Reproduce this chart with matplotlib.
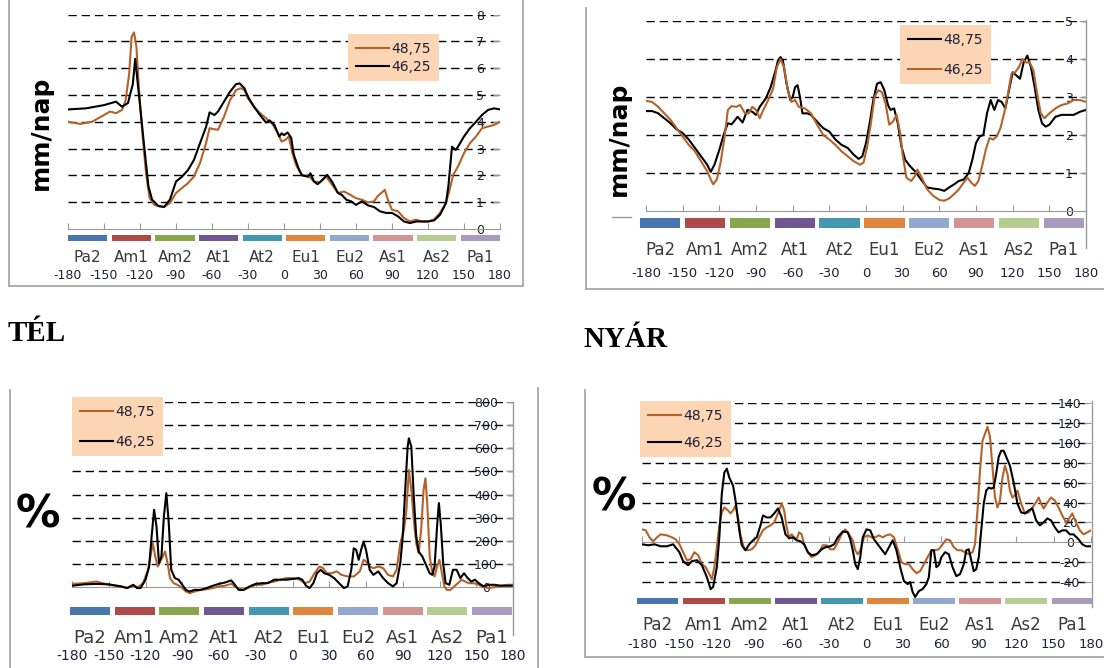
import matplotlib
matplotlib.use("Agg")
import matplotlib.pyplot as plt
from matplotlib.lines import Line2D

W, H = 1104, 668

# ---------------- data ----------------
categories = ["Pa2", "Am1", "Am2", "At1", "At2", "Eu1", "Eu2", "As1", "As2", "Pa1"]
cat_colors = ["#4A76AE", "#AE4A48", "#89A64C", "#71578F", "#4498AE",
              "#DF853E", "#93A8CF", "#D39594", "#B6CD92", "#A99AC0"]
lon_ticks = list(range(-180, 181, 30))
series_names = ["48,75", "46,25"]

# TÉL, mm/nap
w_mm_x_4875 = [-180, -170, -160, -150, -145, -140, -135, -132, -129, -127, -125, -123, -121, -118, -115, -112,
               -108, -104, -100, -95, -90, -85, -80, -75, -70, -65, -62, -58, -55, -50, -45, -40, -36, -33, -30,
               -25, -20, -15, -10, -5, -2, 1, 4, 7, 10, 15, 20, 25, 30, 35, 40, 45, 50, 55, 60, 65, 70, 75, 78,
               84, 87, 90, 95, 100, 105, 110, 115, 120, 125, 130, 135, 138, 141, 145, 150, 155, 160, 165, 170,
               175, 180]
w_mm_4875 = [4.0, 3.92, 4.0, 4.25, 4.38, 4.32, 4.44, 4.8, 5.8, 7.17, 7.33, 6.8, 5.3, 3.57, 2.08, 1.15, 0.9,
             0.84, 0.82, 0.97, 1.34, 1.53, 1.71, 1.96, 2.46, 3.2, 3.76, 3.72, 3.7, 4.19, 4.8, 5.18, 5.25, 5.18,
             4.87, 4.56, 4.32, 4.13, 3.94, 3.57, 3.26, 3.32, 3.45, 2.83, 2.39, 2.0, 2.0, 1.77, 1.74, 1.96, 1.65,
             1.34, 1.4, 1.28, 1.15, 1.09, 0.99, 1.03, 1.22, 1.46, 1.03, 0.72, 0.66, 0.41, 0.28, 0.35, 0.28, 0.28,
             0.35, 0.6, 0.97, 1.46, 2.02, 2.33, 2.83, 3.2, 3.45, 3.76, 3.82, 3.88, 4.0]
w_mm_x_4625 = [-180, -165, -150, -140, -135, -130, -126, -124, -121, -117, -113, -110, -105, -100, -95, -90,
               -85, -80, -75, -70, -65, -62, -58, -55, -50, -45, -40, -37, -33, -30, -25, -20, -15, -12, -8, -4,
               -2, 0, 3, 6, 8, 12, 15, 20, 22, 25, 28, 32, 36, 40, 45, 48, 52, 56, 60, 65, 70, 75, 80, 85, 90,
               95, 100, 105, 110, 115, 120, 125, 130, 135, 137, 140, 143, 145, 150, 155, 160, 165, 170, 175, 180]
w_mm_4625 = [4.46, 4.5, 4.62, 4.75, 4.56, 4.7, 5.4, 6.35, 5.05, 3.3, 1.6, 1.1, 0.87, 0.82, 1.1, 1.77, 1.95,
             2.2, 2.58, 3.2, 3.8, 4.35, 4.25, 4.38, 4.75, 5.12, 5.4, 5.43, 5.25, 4.93, 4.56, 4.25, 3.97, 4.05,
             3.88, 3.45, 3.57, 3.5, 3.6, 3.4, 2.8, 2.27, 2.0, 1.95, 2.08, 1.77, 1.67, 1.83, 2.02, 1.77, 1.34,
             1.28, 1.09, 1.03, 0.9, 1.03, 0.88, 0.82, 0.66, 0.6, 0.6, 0.47, 0.28, 0.22, 0.28, 0.28, 0.28, 0.32,
             0.53, 0.97, 1.6, 3.07, 2.95, 3.07, 3.45, 3.76, 4.0, 4.25, 4.44, 4.5, 4.46]

# NYÁR, mm/nap
s_mm_x_4875 = [-180, -175, -170, -165, -160, -155, -150, -145, -140, -135, -130, -127, -124, -120, -116, -113,
               -110, -105, -101, -97, -93, -90, -87, -82, -78, -74, -72, -70, -68, -65, -62, -60, -58, -56, -54,
               -52, -48, -45, -40, -35, -30, -25, -20, -15, -10, -6, -3, 0, 3, 6, 9, 12, 15, 18, 20, 23, 26, 29,
               32, 36, 40, 45, 50, 55, 60, 64, 68, 72, 76, 80, 84, 87, 90, 93, 96, 99, 102, 105, 108, 111, 114,
               117, 120, 123, 126, 129, 132, 135, 138, 141, 144, 147, 150, 155, 160, 165, 170, 175, 180]
s_mm_4875 = [2.63, 2.63, 2.57, 2.44, 2.31, 2.15, 2.05, 1.88, 1.66, 1.44, 1.22, 1.03, 1.22, 1.61, 2.05, 2.31,
             2.28, 2.48, 2.33, 2.66, 2.61, 2.53, 2.74, 2.96, 3.26, 3.7, 3.96, 4.05, 3.96, 3.35, 2.92, 3.0, 3.26,
             3.31, 3.0, 2.57, 2.57, 2.53, 2.35, 2.18, 2.09, 1.88, 1.74, 1.66, 1.48, 1.37, 1.44, 1.79, 2.31, 2.92,
             3.35, 3.39, 3.18, 2.79, 2.66, 2.7, 2.31, 1.7, 1.35, 1.18, 1.05, 0.83, 0.62, 0.59, 0.57, 0.53, 0.62,
             0.7, 0.79, 0.83, 1.0, 1.35, 1.79, 1.96, 2.0, 2.57, 2.92, 2.66, 2.92, 2.87, 2.7, 3.18, 3.65, 3.57,
             3.48, 3.91, 4.09, 3.78, 3.26, 2.66, 2.31, 2.22, 2.27, 2.48, 2.53, 2.53, 2.53, 2.61, 2.66]
s_mm_x_4625 = [-180, -175, -170, -165, -160, -155, -150, -145, -140, -135, -130, -127, -125, -122, -119, -116,
               -113, -110, -106, -103, -99, -96, -93, -90, -87, -84, -80, -76, -73, -70, -67, -64, -61, -58, -55,
               -50, -45, -40, -35, -30, -25, -20, -15, -10, -5, -2, 1, 4, 7, 10, 13, 16, 19, 22, 25, 28, 30, 33,
               37, 40, 42, 45, 50, 55, 60, 64, 68, 72, 76, 80, 83, 86, 89, 92, 95, 98, 101, 104, 107, 110, 113,
               116, 119, 122, 125, 128, 131, 134, 137, 140, 143, 146, 150, 155, 160, 165, 170, 175, 180]
s_mm_4625 = [2.9, 2.87, 2.74, 2.57, 2.4, 2.18, 1.96, 1.74, 1.57, 1.31, 1.05, 0.83, 0.7, 0.83, 1.27, 1.88, 2.66,
             2.76, 2.74, 2.79, 2.57, 2.57, 2.74, 2.66, 2.44, 2.66, 2.92, 3.22, 3.78, 4.0, 3.78, 3.18, 2.87, 2.92,
             2.74, 2.7, 2.57, 2.27, 2.0, 1.88, 1.74, 1.57, 1.44, 1.31, 1.22, 1.27, 1.7, 2.31, 3.0, 3.18, 3.13,
             2.83, 2.27, 2.35, 2.53, 2.05, 1.48, 0.88, 0.79, 0.92, 1.09, 0.92, 0.57, 0.4, 0.29, 0.27, 0.33, 0.44,
             0.57, 0.75, 0.88, 0.75, 0.66, 0.79, 1.18, 1.61, 1.92, 1.88, 1.96, 2.18, 2.57, 3.05, 3.61, 3.65, 3.78,
             4.0, 3.91, 3.91, 3.7, 3.09, 2.57, 2.44, 2.57, 2.7, 2.79, 2.83, 2.92, 2.92, 2.87]

# TÉL, %
w_pct_x_4875 = [-180, -170, -160, -150, -140, -135, -130, -126, -122, -118, -116, -114, -112, -110, -108, -106,
                -104, -102, -100, -97, -94, -90, -87, -84, -80, -75, -70, -65, -60, -55, -50, -45, -40, -35, -30,
                -25, -20, -15, -10, -5, 0, 5, 10, 14, 18, 22, 25, 28, 32, 36, 40, 45, 50, 55, 58, 60, 63, 66, 70,
                74, 78, 82, 85, 88, 91, 93, 95, 97, 99, 101, 103, 105, 107, 108.5, 110, 112, 114, 116, 118, 120,
                122, 124, 126, 129, 132, 135, 138, 141, 144, 148, 152, 156, 160, 165, 170, 175, 180]
w_pct_4875 = [14, 17, 24, 10, 3, -4, 6, 0, 17, 75, 132, 190, 132, 89, 111, 132, 154, 104, 39, 17, 10, -4, -19,
              -26, -19, -12, -9, -4, 3, 6, 14, -4, -12, 0, 10, 10, 20, 24, 32, 39, 39, 35, 17, 24, 60, 89, 82, 60,
              60, 68, 53, 46, 46, 68, 118, 111, 89, 82, 89, 82, 53, 46, 75, 190, 247, 334, 506, 420, 291, 190,
              147, 247, 420, 470, 363, 132, 68, 46, 89, 118, 60, 3, -12, -12, 3, 17, 32, 24, 17, 17, 10, 0, -4, 0,
              6, 10, 10]
w_pct_x_4625 = [-180, -170, -160, -150, -140, -135, -130, -127, -124, -120, -117, -115, -113, -111, -109, -107,
                -105, -103, -101, -99, -96, -93, -90, -87, -84, -80, -75, -70, -65, -60, -55, -50, -47, -44, -40,
                -35, -30, -25, -20, -15, -10, -5, 0, 5, 8, 11, 14, 17, 20, 23, 26, 30, 34, 38, 42, 45, 48, 50, 52,
                54, 56, 58, 60, 63, 66, 70, 74, 78, 82, 85, 88, 90, 92, 94, 95, 97, 99, 101, 103, 106, 109, 112,
                114, 116, 118, 119.5, 121, 123, 125, 128, 131, 134, 137, 140, 143, 146, 149, 152, 156, 160, 165,
                170, 175, 180]
w_pct_4625 = [6, 12, 14, 12, 3, -4, 10, -4, -4, 32, 89, 219, 334, 262, 104, 132, 305, 406, 276, 75, 39, 32, 10,
              -12, -19, -12, -12, -4, 6, 14, 20, 29, 10, -12, -12, 3, 14, 17, 17, 32, 32, 32, 35, 39, 32, 6, -4,
              17, 60, 75, 60, 53, 39, 17, -4, 3, 75, 168, 161, 118, 161, 197, 161, 75, 53, 68, 39, 17, 3, 17, 104,
              219, 420, 607, 643, 607, 391, 219, 154, 132, 96, 60, 53, 89, 262, 363, 276, 104, 17, 10, 75, 75, 39,
              60, 39, 24, 32, 17, 3, 10, 10, 6, 6, 6]

# NYÁR, %
s_pct_x_4875 = [-180, -177, -174, -171, -168, -165, -160, -156, -153, -150, -147, -144, -141, -138, -135, -132,
                -129, -126, -124, -122, -120, -118, -116, -114, -111, -109, -107, -105, -103, -101, -98, -95, -92,
                -89, -86, -83, -80, -77, -74, -71, -68, -66, -64, -62, -60, -58, -56, -54, -52, -50, -47, -44,
                -41, -38, -35, -32, -29, -26, -23, -20, -17, -14, -11, -9, -7, -5, -2, 1, 4, 7, 10, 13, 16, 19,
                22, 25, 28, 31, 34, 37, 40, 43, 46, 49, 52, 55, 58, 61, 64, 67, 70, 73, 76, 79, 82, 85, 87, 89,
                91, 93, 95, 97, 99, 101, 103, 105, 107, 109, 111, 113, 115, 117, 119, 121, 124, 127, 130, 133,
                136, 138, 140, 142, 145, 148, 151, 154, 157, 160, 163, 165, 168, 171, 174, 177, 180]
s_pct_4875 = [13, 12, 5, 1, 5, 8, 7, 5, 3, -2, -10, -18, -17, -10, -13, -22, -25, -32, -37, -25, -5, 17, 30, 35,
              32, 29, 32, 37, 25, 7, -7, -8, -7, -3, 5, 12, 15, 17, 20, 29, 39, 32, 15, 5, 8, 5, 3, 10, 8, -2,
              -10, -15, -13, -10, -3, -3, -7, -7, 0, 8, 13, 8, 2, -8, -12, -8, 5, 7, 5, 5, 7, 5, 7, 8, 5, -7, -20,
              -22, -22, -27, -31, -29, -22, -15, -8, -8, -7, -2, 3, 2, -5, -8, -8, -10, -12, -10, -2, 32, 72, 102,
              109, 116, 106, 76, 45, 35, 42, 65, 77, 69, 52, 45, 47, 52, 39, 29, 30, 35, 40, 45, 39, 34, 40, 45,
              42, 35, 27, 20, 25, 29, 20, 12, 8, 10, 12]
s_pct_x_4625 = [-180, -175, -170, -165, -160, -155, -150, -147, -143, -140, -136, -132, -128, -125, -123, -120,
                -118, -116, -114, -112, -110, -107, -105, -102, -100, -97, -94, -91, -88, -85, -83, -80, -77, -74,
                -71, -68, -65, -62, -59, -56, -53, -50, -47, -44, -40, -36, -33, -29, -26, -23, -19, -15, -13,
                -11, -9, -7, -5, -3, 0, 3, 6, 9, 12, 15, 18, 21, 24, 27, 30, 33, 35, 37, 39, 42, 45, 48, 50, 52,
                54, 56, 58, 60, 63, 66, 69, 72, 75, 78, 80, 82, 84, 86, 88, 90, 92, 94, 96, 98, 100, 102, 104,
                106, 108, 110, 112, 115, 118, 121, 124, 127, 130, 133, 136, 139, 142, 145, 148, 151, 154, 157,
                160, 163, 166, 170, 173, 176, 180]
s_pct_4625 = [-2, -3, -2, -4, -4, -2, -10, -19, -23, -19, -18, -23, -35, -47, -45, -25, 5, 49, 70, 74, 65, 57,
              42, 12, -3, -8, -2, 2, 5, 17, 27, 25, 25, 29, 34, 25, 8, 4, 5, 2, 1, -2, -10, -13, -12, -7, -5, -4,
              -2, 5, 11, 10, 3, -8, -22, -27, -15, 5, 13, 12, 3, -2, -7, -12, -5, 2, -8, -25, -39, -42, -40, -50,
              -55, -49, -47, -42, -35, -8, -8, -25, -23, -15, -10, -12, -25, -34, -32, -22, -8, -7, -18, -29, -27,
              -15, 12, 39, 52, 55, 54, 55, 69, 86, 92, 92, 86, 77, 60, 39, 30, 29, 32, 34, 22, 17, 20, 24, 22, 15,
              10, 12, 12, 8, 8, 3, -2, -4, -4]

# ---------------- style ----------------
BROWN = "#B4622A"
BLACK = "#000000"
LEG_BG = "#FCD5B4"
FRAME = "#A8A8A8"
AXGRAY = "#9A9A9A"
NUM = "#1E2038"
CATC = "#3A3A3A"

fig = plt.figure(figsize=(W / 100, H / 100), dpi=100)


def fbox(l, t, r, b):
    return [l / W, 1 - b / H, (r - l) / W, (b - t) / H]


def fline(x0, y0, x1, y1, color=FRAME, lw=1.3):
    fig.add_artist(Line2D([x0 / W, x1 / W], [1 - y0 / H, 1 - y1 / H], color=color, lw=lw,
                          transform=fig.transFigure))


def px2pt(v):
    return v * 72 / 100


def panel(plot_box, strip_box, ylim, yticks, lines, leg_xy, leg_spacing, ytick_dx, num_pad, num_size,
          cat_pad, cat_size, ylab, ylab_xy, ylab_size):
    ax = fig.add_axes(fbox(*plot_box))
    for x, y, c, lab in lines:
        ax.plot(x, y, color=c, lw=1.5, label=lab, zorder=3, solid_joinstyle="round")
    ax.set_xlim(-180, 180)
    ax.set_ylim(*ylim)
    ax.set_facecolor("none")
    for s in ("left", "top", "right"):
        ax.spines[s].set_visible(False)
    ax.spines["bottom"].set_position(("data", 0))
    ax.spines["bottom"].set_color(AXGRAY)
    ax.set_xticks(lon_ticks, [str(v) for v in lon_ticks])
    ax.tick_params(axis="x", direction="in", length=4, color=AXGRAY, pad=px2pt(num_pad),
                   labelsize=num_size, labelcolor=NUM)
    ax.set_yticks(yticks, [str(v) for v in yticks])
    ax.yaxis.tick_right()
    ax.tick_params(axis="y", direction="in", length=5, color=AXGRAY, pad=px2pt(ytick_dx),
                   labelsize=9, labelcolor=NUM)
    plt.setp(ax.get_yticklabels(), ha="center")
    ax.yaxis.grid(True, color="black", lw=1.0, linestyle=(0, (6, 3.5)))
    for t, v in zip(ax.yaxis.get_major_ticks(), yticks):
        if v == 0:
            t.gridline.set_visible(False)
    ax.set_axisbelow(True)

    leg = ax.legend(loc="upper left", bbox_to_anchor=(leg_xy[0] / W, 1 - leg_xy[1] / H),
                    bbox_transform=fig.transFigure, frameon=True, facecolor=LEG_BG, edgecolor="none",
                    framealpha=1, fancybox=False, fontsize=10, handlelength=2.4, handletextpad=0.2,
                    labelspacing=leg_spacing, borderpad=0.55, borderaxespad=0)
    for t in leg.get_texts():
        t.set_color(NUM)

    sx = fig.add_axes(fbox(*strip_box))
    idx = list(range(len(categories)))
    sx.bar(idx, 1, width=0.9, bottom=0, color=cat_colors)
    sx.set_xlim(-0.45, len(categories) - 0.55)
    sx.set_ylim(0, 1)
    for s in sx.spines.values():
        s.set_visible(False)
    sx.set_yticks([])
    sx.set_xticks(idx, categories)
    sx.tick_params(axis="x", length=0, pad=px2pt(cat_pad), labelsize=cat_size, labelcolor=CATC)

    rot = 90 if ylab != "%" else 0
    fig.text(ylab_xy[0] / W, 1 - ylab_xy[1] / H, ylab, rotation=rot, ha="center", va="center",
             fontsize=ylab_size, fontweight="bold", color="black")
    return ax


# TÉL mm/nap (top left)
panel((68, 14.5, 500, 229), (68, 235, 500, 241), (0, 8), list(range(0, 9)),
      [(w_mm_x_4875, w_mm_4875, BROWN, series_names[0]), (w_mm_x_4625, w_mm_4625, BLACK, series_names[1])],
      (348, 34), 0.3, -20, 40, 9, 9, 11, "mm/nap", (41, 133), 18)

# NYÁR mm/nap (top right)
panel((646, 21, 1086, 211), (640, 218, 1084, 228), (0, 5), list(range(0, 6)),
      [(s_mm_x_4875, s_mm_4875, BLACK, series_names[0]), (s_mm_x_4625, s_mm_4625, BROWN, series_names[1])],
      (900, 25), 1.15, -17, 56, 9.5, 13, 12, "mm/nap", (619, 139), 18)

# TÉL % (bottom left)
panel((72, 402, 513, 601), (70, 607, 512, 615), (-60, 800), list(range(0, 801, 100)),
      [(w_pct_x_4875, w_pct_4875, BROWN, series_names[0]), (w_pct_x_4625, w_pct_4625, BLACK, series_names[1])],
      (72, 397), 1.15, -27, 62, 10, 14, 13, "%", (38, 515), 32)

# NYÁR % (bottom right)
panel((642, 403, 1091, 602), (637, 598, 1093, 604), (-60, 140), list(range(-40, 141, 20)),
      [(s_pct_x_4875, s_pct_4875, BROWN, series_names[0]), (s_pct_x_4625, s_pct_4625, BLACK, series_names[1])],
      (640, 401), 0.95, -21, 96, 9.5, 12, 12, "%", (614, 498), 32)

# season titles
fig.text(8 / W, 1 - 341 / H, "TÉL", family="Liberation Serif", fontweight="bold", fontsize=21,
         ha="left", va="baseline")
fig.text(584 / W, 1 - 347 / H, "NYÁR", family="Liberation Serif", fontweight="bold", fontsize=21,
         ha="left", va="baseline")

# picture frames
fline(9, 0, 9, 286)
fline(9, 286, 523, 286)
fline(523, 0, 523, 286)
fline(586, 8, 586, 289)
fline(586, 289, 1104, 289)
fline(1086, 20, 1086, 248, color=AXGRAY, lw=1.0)
fline(612, 217, 631, 217, color=AXGRAY, lw=1.0)
fline(10, 390, 10, 668)
fline(538, 388, 538, 668)
fline(513, 402, 513, 635, color=AXGRAY, lw=1.0)
fline(585, 390, 585, 657)
fline(585, 657, 1104, 657)
fline(1092, 401, 1092, 607, color=AXGRAY, lw=1.0)

fig.savefig("out.png", dpi=100)
